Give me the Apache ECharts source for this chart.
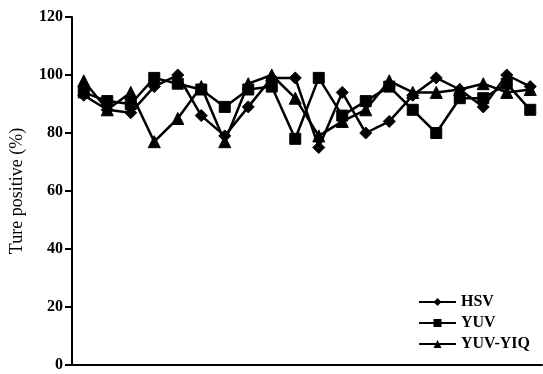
<!DOCTYPE html>
<html>
<head>
<meta charset="utf-8">
<script src="https://cdn.jsdelivr.net/npm/echarts@6/dist/echarts.min.js"></script>
<style>
  html, body { margin: 0; padding: 0; background: #fff; }
  #chart { width: 543px; height: 374px; }
</style>
</head>
<body>
<div id="chart"></div>
<script>
// Test sequences (one category per frame sequence)
const samples = ['1','2','3','4','5','6','7','8','9','10','11','12','13','14','15','16','17','18','19','20'];

// True positive rate (%) for each colour space
const hsv    = [93, 88, 87, 96, 100, 86, 79, 89, 99, 99, 75, 94, 80, 84, 93, 99, 95, 89, 100, 96];
const yuv    = [94, 91, 90, 99, 97, 95, 89, 95, 96, 78, 99, 86, 91, 96, 88, 80, 92, 92, 97, 88];
const yuvYiq = [98, 88, 94, 77, 85, 96, 77, 97, 100, 92, 79, 84, 88, 98, 94, 94, 95, 97, 94, 95];

// Y axis tick values
const yTicks = [0, 20, 40, 60, 80, 100, 120];

const font = '"Liberation Serif", "Times New Roman", serif';

function lineSeries(name, data, symbol, size) {
  return {
    name: name,
    type: 'line',
    data: data,
    symbol: symbol,
    symbolSize: size,
    showAllSymbol: true,
    lineStyle: { color: '#000', width: 2.5 },
    itemStyle: { color: '#000', borderColor: '#000' },
    emphasis: { disabled: true },
    animation: false
  };
}

const chart = echarts.init(document.getElementById('chart'));
chart.setOption({
  backgroundColor: '#fff',
  animation: false,
  grid: { left: 72, right: 1, top: 17, bottom: 9, containLabel: false, outerBoundsMode: 'none' },
  legend: {
    orient: 'vertical',
    left: 418,
    top: 294,
    padding: 0,
    itemWidth: 37,
    itemHeight: 10,
    itemGap: 5,
    textStyle: { fontFamily: font, fontWeight: 'bold', fontSize: 16, color: '#000' },
    data: ['HSV', 'YUV', 'YUV-YIQ']
  },
  xAxis: {
    type: 'category',
    data: samples,
    boundaryGap: true,
    axisLine: { lineStyle: { color: '#000', width: 2 } },
    axisTick: { show: false },
    axisLabel: { show: false },
    splitLine: { show: false }
  },
  yAxis: {
    type: 'value',
    min: yTicks[0],
    max: yTicks[yTicks.length - 1],
    interval: 20,
    name: 'Ture positive (%)',
    nameLocation: 'middle',
    nameGap: 46,
    nameTextStyle: { fontFamily: font, fontSize: 18, color: '#000' },
    axisLine: { show: true, lineStyle: { color: '#000', width: 2 } },
    axisTick: { show: true, length: 7, lineStyle: { color: '#000', width: 2 } },
    axisLabel: { fontFamily: font, fontWeight: 'bold', fontSize: 16, color: '#000', margin: 9 },
    splitLine: { show: false }
  },
  series: [
    lineSeries('HSV', hsv, 'diamond', 12),
    lineSeries('YUV', yuv, 'rect', 11),
    lineSeries('YUV-YIQ', yuvYiq, 'triangle', 12)
  ]
});
</script>
</body>
</html>
